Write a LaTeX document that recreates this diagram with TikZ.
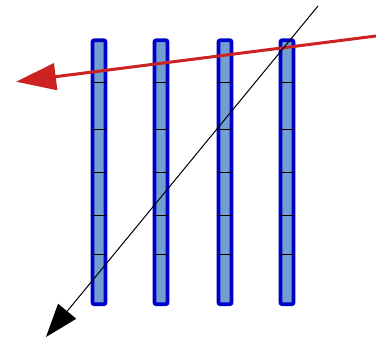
\documentclass[tikz,border=0pt]{standalone}
\usetikzlibrary{arrows.meta}

\definecolor{barblue}{RGB}{0,0,204}
\definecolor{barfill}{RGB}{114,159,207}
\definecolor{arrowred}{RGB}{204,34,34}

\tikzset{
  bar/.style={draw=barblue,fill=barfill,line width=2.9pt,rounded corners=1.5pt,
    minimum width=9.75pt,minimum height=198pt,inner sep=0pt},
  barmark/.style={black,line width=0.75pt}
}

\begin{document}
\begin{tikzpicture}[x=0.75pt,y=-0.75pt]
\useasboundingbox (0,0) rectangle (376,340);

% the four bars
\node[bar] (b1) at (99,172.25) {};
\node[bar] (b2) at (161,172.25) {};
\node[bar] (b3) at (225,172.25) {};
\node[bar] (b4) at (287,172.25) {};

\foreach \b in {b1,b2,b3,b4}
  \foreach \y in {82,129,172,215,254}
    \draw[barmark] (\b.west |- 0,\y) -- (\b.east |- 0,\y);

% arrows
\coordinate (redstart) at (376,36);
\coordinate (redend) at (16,81.7);
\draw[arrowred,line width=2.25pt,-{Triangle[length=30pt,width=20pt]}] (redstart) -- (redend);

\coordinate (blackstart) at (318,6);
\coordinate (blackend) at (46,337);
\draw[black,line width=0.75pt,-{Triangle[length=25pt,width=17.5pt]}] (blackstart) -- (blackend);

\end{tikzpicture}
\end{document}
